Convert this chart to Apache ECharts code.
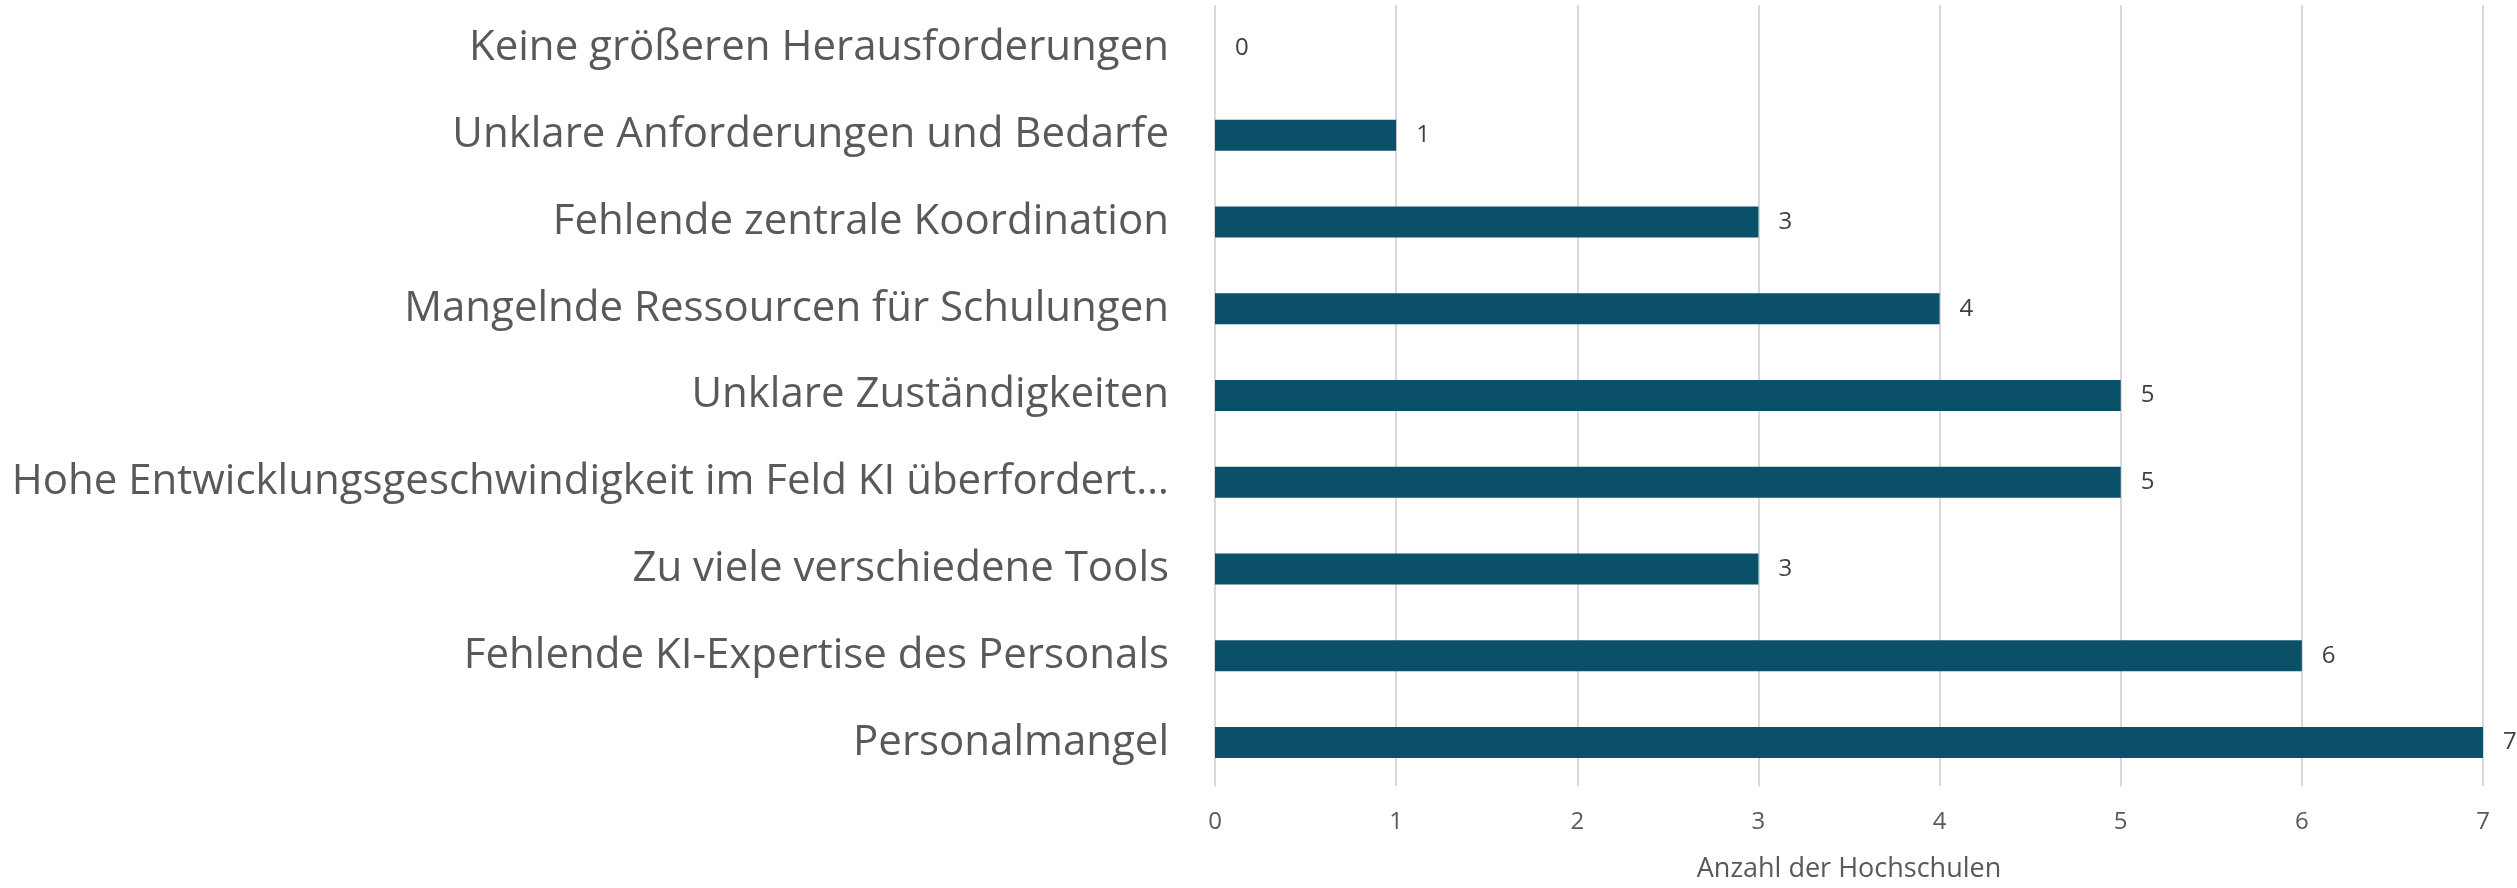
<!DOCTYPE html>
<html>
<head>
<meta charset="utf-8">
<script src="https://cdn.jsdelivr.net/npm/echarts@6/dist/echarts.min.js"></script>
<style>
  html, body { margin: 0; padding: 0; background: #fff; }
  #chart { width: 2517px; height: 888px; }
</style>
</head>
<body>
<div id="chart"></div>
<script>
// Kategorien von oben nach unten wie im Bild
const categories = [
  "Keine größeren Herausforderungen",
  "Unklare Anforderungen und Bedarfe",
  "Fehlende zentrale Koordination",
  "Mangelnde Ressourcen für Schulungen",
  "Unklare Zuständigkeiten",
  "Hohe Entwicklungsgeschwindigkeit im Feld KI überfordert…",
  "Zu viele verschiedene Tools",
  "Fehlende KI-Expertise des Personals",
  "Personalmangel"
];
const values = [0, 1, 3, 4, 5, 5, 3, 6, 7];
const xTicks = [0, 1, 2, 3, 4, 5, 6, 7];
const axisTitle = "Anzahl der Hochschulen";

let myChart = echarts.init(document.getElementById("chart"));
myChart.setOption({
  animation: false,
  textStyle: { fontFamily: "Open Sans" },
  grid: {
    left: 1215,
    right: 34,
    top: 5,
    bottom: 98,
  },
  xAxis: {
    type: "value",
    min: xTicks[0],
    max: xTicks[xTicks.length - 1],
    interval: 1,
    name: axisTitle,
    nameLocation: "middle",
    nameGap: 70,
    nameTextStyle: { color: "#595959", fontSize: 27, fontFamily: "Open Sans" },
    axisLine: { show: false },
    axisTick: { show: false },
    axisLabel: { color: "#595959", fontSize: 24, margin: 24 },
    splitLine: { lineStyle: { color: "#d9d9d9", width: 2 } },
  },
  yAxis: {
    type: "category",
    data: categories,
    inverse: true,
    axisLine: { show: false },
    axisTick: { show: false },
    axisLabel: { color: "#595959", fontSize: 42, margin: 46 },
  },
  series: [
    {
      type: "bar",
      data: values,
      barWidth: 31,
      itemStyle: { color: "#0b5069" },
      label: {
        show: true,
        position: "right",
        distance: 20,
        color: "#404040",
        fontSize: 24,
      },
    },
  ],
});
window.addEventListener("resize", function () {
  myChart.resize();
});
</script>
</body>
</html>
